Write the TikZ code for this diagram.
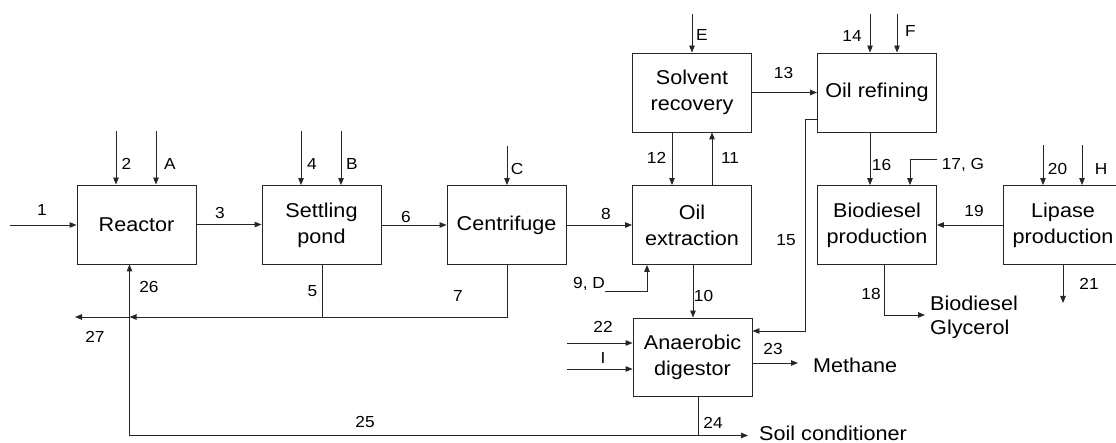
\documentclass[tikz,border=0pt]{standalone}
\usepackage{fontspec}
\setmainfont{Liberation Sans}[FakeStretch=1.08]
\usetikzlibrary{arrows.meta}
\begin{document}
\begin{tikzpicture}[x=1pt,y=-1pt,
  proc/.style={draw=black!85,line width=0.9pt,minimum width=119pt,minimum height=79pt,inner sep=0pt,align=center,font=\fontsize{20}{26}\selectfont},
  lab/.style={inner sep=0pt,font=\fontsize{16}{18}\selectfont},
  big/.style={inner sep=0pt,align=left,font=\fontsize{20}{24}\selectfont},
  ln/.style={draw=black!85,line width=0.9pt},
  arr/.style={ln,-{Triangle[length=7pt,width=5.5pt]}}]
\useasboundingbox (0,0) rectangle (1116,443);
% boxes
\node[proc] (R) at (136.5,224.5) {Reactor};
\node[proc] (S) at (321.5,225) {Settling\\pond};
\node[proc] (C) at (506.5,225) {Centrifuge};
\node[proc] (SR) at (692,92.5) {Solvent\\recovery};
\node[proc] (OE) at (692,225) {Oil\\extraction};
\node[proc] (OR) at (877,92.5) {Oil refining};
\node[proc] (BP) at (877,225) {Biodiesel\\production};
\node[proc,minimum width=120pt] (LP) at (1063,225) {Lipase\\production};
\node[proc,minimum height=78pt] (AD) at (692.5,357) {Anaerobic\\digestor};
% free ends
\coordinate (in1) at (10,225);
\coordinate (in2) at (116,131);
\coordinate (inA) at (156,131);
\coordinate (in4) at (301,131);
\coordinate (inB) at (341,131);
\coordinate (inC) at (507,146);
\coordinate (j5) at (322,317);
\coordinate (j7) at (507,317);
\coordinate (j26) at (129.5,317);
\coordinate (out27) at (75,317);
\coordinate (c25) at (129.5,435.5);
\coordinate (j24) at (698,435.5);
\coordinate (out24) at (748,435.5);
\coordinate (in9) at (605,291);
\coordinate (c9) at (647,291);
\coordinate (inE) at (692,14);
\coordinate (in14) at (870,14);
\coordinate (inF) at (897,14);
\coordinate (in17) at (937,159);
\coordinate (c17) at (910,159);
\coordinate (in20) at (1043,145);
\coordinate (inH) at (1082,145);
\coordinate (out21) at (1063,303);
\coordinate (c18) at (884,315);
\coordinate (out18) at (925,315);
\coordinate (c15a) at (805,119.5);
\coordinate (c15b) at (805,331);
\coordinate (in22) at (567,343);
\coordinate (inI) at (567,369);
\coordinate (out23) at (798,363);
% connectors
\draw[arr] (in1) -- (in1 -| R.west);
\draw[arr] (in2) -- (in2 |- R.north);
\draw[arr] (inA) -- (inA |- R.north);
\draw[arr] (R.east) -- (R.east -| S.west);
\draw[arr] (in4) -- (in4 |- S.north);
\draw[arr] (inB) -- (inB |- S.north);
\draw[arr] (S.east) -- (S.east -| C.west);
\draw[arr] (inC) -- (inC |- C.north);
\draw[ln] (j5 |- S.south) -- (j5);
\draw[arr] (j7 |- C.south) -- (j7) -- (j26);
\draw[arr] (j26) -- (out27);
\draw[arr] (j24 |- AD.south) -- (j24) -- (out24);
\draw[arr] (j24) -- (c25) -- (c25 |- R.south);
\draw[arr] (C.east) -- (C.east -| OE.west);
\draw[arr] (in9) -- (c9) -- (c9 |- OE.south);
\draw[arr] (693,0 |- OE.south) -- (693,0 |- AD.north);
\draw[arr] (672,0 |- SR.south) -- (672,0 |- OE.north);
\draw[arr] (712,0 |- OE.north) -- (712,0 |- SR.south);
\draw[arr] (inE) -- (inE |- SR.north);
\draw[arr] (SR.east) -- (SR.east -| OR.west);
\draw[arr] (in14) -- (in14 |- OR.north);
\draw[arr] (inF) -- (inF |- OR.north);
\draw[arr] (c15a -| OR.west) -- (c15a) -- (c15b) -- (c15b -| AD.east);
\draw[arr] (870,0 |- OR.south) -- (870,0 |- BP.north);
\draw[arr] (in17) -- (c17) -- (c17 |- BP.north);
\draw[arr] (LP.west) -- (LP.west -| BP.east);
\draw[arr] (in20) -- (in20 |- LP.north);
\draw[arr] (inH) -- (inH |- LP.north);
\draw[arr] (out21 |- LP.south) -- (out21);
\draw[arr] (c18 |- BP.south) -- (c18) -- (out18);
\draw[arr] (in22) -- (in22 -| AD.west);
\draw[arr] (inI) -- (inI -| AD.west);
\draw[arr] (out23 -| AD.east) -- (out23);
% labels
\node[lab] (l1) at (42,210) {1};
\node[lab] (l2) at (126.5,164) {2};
\node[lab] (lA) at (170,164) {A};
\node[lab] (l3) at (220,213) {3};
\node[lab] (l4) at (312,164) {4};
\node[lab] (lB) at (352,164) {B};
\node[lab] (l6) at (406,217) {6};
\node[lab] (lC) at (517,169) {C};
\node[lab] (l5) at (312.5,291) {5};
\node[lab] (l7) at (458,296) {7};
\node[lab] (l27) at (95,337) {27};
\node[lab] (l26) at (149,287) {26};
\node[lab] (l25) at (365,422) {25};
\node[lab] (l24) at (713,423) {24};
\node[lab] (l8) at (606,214) {8};
\node[lab] (l9) at (589,284) {9, D};
\node[lab] (l10) at (703.5,296) {10};
\node[lab] (l12) at (656.5,158) {12};
\node[lab] (l11) at (730,158) {11};
\node[lab] (lE) at (702,35) {E};
\node[lab] (l13) at (783.5,73) {13};
\node[lab] (l14) at (852,36) {14};
\node[lab] (lF) at (910.5,31) {F};
\node[lab] (l15) at (786,240) {15};
\node[lab] (l16) at (881.5,165) {16};
\node[lab] (l17) at (963,165) {17, G};
\node[lab] (l19) at (974,211) {19};
\node[lab] (l20) at (1057.5,169) {20};
\node[lab] (lH) at (1101,169) {H};
\node[lab] (l21) at (1089,284) {21};
\node[lab] (l18) at (871,294) {18};
\node[lab] (l22) at (603,327) {22};
\node[lab] (lI) at (603,358) {I};
\node[lab] (l23) at (773,349) {23};
\node[big,anchor=west] (bg) at (930,317) {Biodiesel\\Glycerol};
\node[big,anchor=west] (me) at (813,365) {Methane};
\node[big,anchor=west] (sc) at (759,433.5) {Soil conditioner};
\end{tikzpicture}
\end{document}
